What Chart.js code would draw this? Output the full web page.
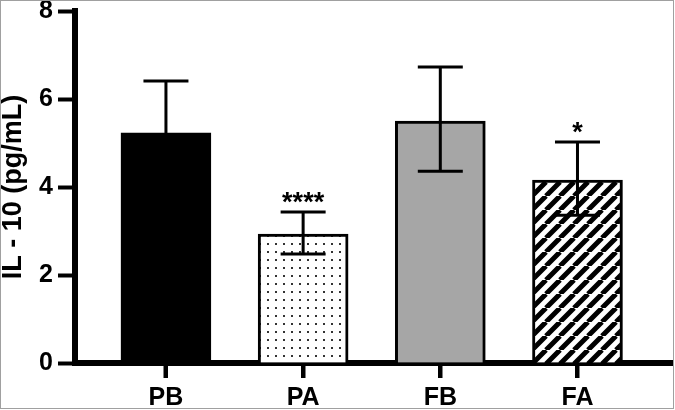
<!DOCTYPE html>
<html>
<head>
<meta charset="utf-8">
<script src="https://cdn.jsdelivr.net/npm/chart.js@4.4.1/dist/chart.umd.min.js"></script>
<style>
  html, body { margin: 0; padding: 0; background: #fff; }
  #wrap { width: 675px; height: 410px; }
</style>
</head>
<body>
<div id="wrap"><canvas id="il10-chart"></canvas></div>
<script>
// group labels and values
const groups = ['PB', 'PA', 'FB', 'FA'];
const meanValues = [5.23, 2.93, 5.50, 4.16];
const errorLow = [4.05, 2.48, 4.36, 3.36];
const errorHigh = [6.41, 3.43, 6.73, 5.02];
const significance = ['', '****', '', '*'];
const yTicks = [0, 2, 4, 6, 8];

const FONT = "'Liberation Sans', Arial, sans-serif";

const canvas = document.getElementById('il10-chart');
const mainCtx = canvas.getContext('2d');

/**
 * Fill patterns for the PA (dots) and FA (diagonal stripes) bars
 */
function dotPattern() {
  const tile = document.createElement('canvas');
  tile.width = 8; tile.height = 8;
  const c = tile.getContext('2d');
  c.fillStyle = '#fff';
  c.fillRect(0, 0, 8, 8);
  c.fillStyle = '#333';
  c.fillRect(3, 3, 2, 2);
  return mainCtx.createPattern(tile, 'repeat');
}

function stripePattern() {
  const s = 14;
  const tile = document.createElement('canvas');
  tile.width = s; tile.height = s;
  const c = tile.getContext('2d');
  c.fillStyle = '#fff';
  c.fillRect(0, 0, s, s);
  c.strokeStyle = '#000';
  c.lineWidth = 5;
  c.beginPath();
  for (const o of [-s, 0, s]) {
    c.moveTo(o, s);
    c.lineTo(o + s, 0);
  }
  c.stroke();
  return mainCtx.createPattern(tile, 'repeat');
}

const fills = ['#000', dotPattern(), '#a6a6a6', stripePattern()];

// error bars + significance stars
const errorBars = {
  id: 'errorBars',
  afterDatasetsDraw(chart) {
    const { ctx, scales: { y } } = chart;
    const bars = chart.getDatasetMeta(0).data;
    ctx.save();
    ctx.strokeStyle = '#000';
    ctx.fillStyle = '#000';
    ctx.lineWidth = 3;
    bars.forEach((bar, i) => {
      const x = bar.x;
      const top = y.getPixelForValue(errorHigh[i]);
      const bot = y.getPixelForValue(errorLow[i]);
      ctx.beginPath();
      ctx.moveTo(x, top); ctx.lineTo(x, bot);
      ctx.moveTo(x - 22.5, top); ctx.lineTo(x + 22.5, top);
      ctx.moveTo(x - 22.5, bot); ctx.lineTo(x + 22.5, bot);
      ctx.stroke();
      if (significance[i]) {
        ctx.font = 'bold 27px ' + FONT;
        ctx.textAlign = 'center';
        ctx.textBaseline = 'middle';
        ctx.fillText(significance[i], x, top - 9);
      }
    });
    ctx.restore();
  }
};

// category tick marks under the x axis + thin frame round the figure
const frame = {
  id: 'frame',
  afterDraw(chart) {
    const ctx = chart.ctx;
    const axisY = chart.chartArea.bottom;
    ctx.save();
    ctx.fillStyle = '#000';
    chart.getDatasetMeta(0).data.forEach(bar => {
      ctx.fillRect(Math.round(bar.x) - 2, axisY, 4, 15);
    });
    ctx.strokeStyle = '#a0a0a0';
    ctx.lineWidth = 1;
    ctx.strokeRect(0.5, 0.5, 673, 408);
    ctx.restore();
  }
};

new Chart(canvas, {
  type: 'bar',
  data: {
    datasets: [{
      data: meanValues.map((v, i) => ({ x: i, y: v })),
      backgroundColor: fills,
      borderColor: '#000',
      borderWidth: 3,
      barThickness: 90
    }]
  },
  options: {
    responsive: true,
    maintainAspectRatio: false,
    animation: false,
    layout: { padding: { top: 11, right: 3, left: 0, bottom: 0 } },
    plugins: {
      legend: { display: false },
      tooltip: { enabled: false }
    },
    scales: {
      x: {
        type: 'linear',
        offset: false,
        min: -0.663,
        max: 3.689,
        afterBuildTicks: s => { s.ticks = groups.map((g, i) => ({ value: i })); },
        afterFit: s => { s.height = 47; s.paddingLeft = 0; s.paddingRight = 0; },
        ticks: {
          callback: v => groups[v],
          color: '#000',
          padding: 5,
          maxRotation: 0,
          autoSkip: false,
          font: { family: FONT, size: 25, weight: 'bold' }
        },
        grid: { offset: false, drawOnChartArea: false, tickLength: 15, tickWidth: 4, tickColor: '#000' },
        border: { display: true, color: '#000', width: 6 }
      },
      y: {
        min: 0,
        max: 8,
        afterBuildTicks: s => { s.ticks = yTicks.map(v => ({ value: v })); },
        afterFit: s => { s.width = 75; s.paddingTop = 0; s.paddingBottom = 0; },
        ticks: {
          color: '#000',
          padding: 5,
          font: { family: FONT, size: 25, weight: 'bold' }
        },
        grid: { drawOnChartArea: false, tickLength: 17, tickWidth: 4, tickColor: '#000' },
        border: { display: true, color: '#000', width: 6 },
        title: {
          display: true,
          text: 'IL - 10 (pg/mL)',
          color: '#000',
          padding: { top: 0, bottom: 0 },
          font: { family: FONT, size: 27, weight: 'bold', lineHeight: 1 }
        }
      }
    }
  },
  plugins: [errorBars, frame]
});
</script>
</body>
</html>
